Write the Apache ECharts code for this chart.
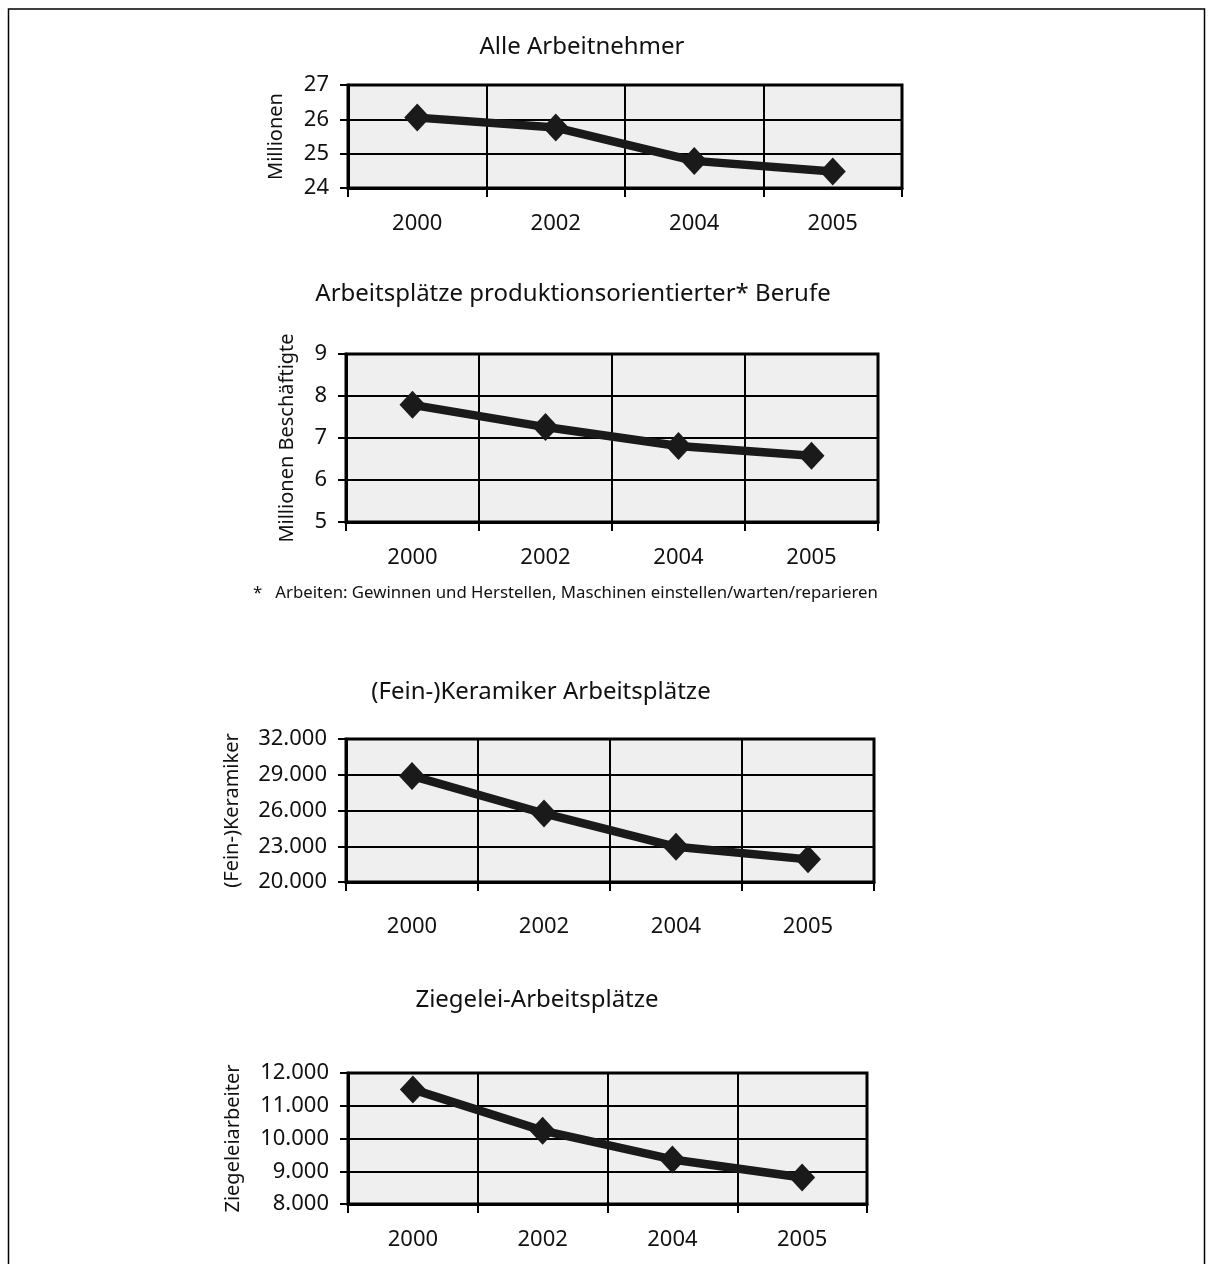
<!DOCTYPE html>
<html>
<head>
<meta charset="utf-8">
<script src="https://cdn.jsdelivr.net/npm/echarts@6/dist/echarts.min.js"></script>
<style>
html,body{margin:0;padding:0;background:#fff;}
#c{width:1214px;height:1264px;}
</style>
</head>
<body>
<div id="c"></div>
<script>
// ---- data ----
const years = ['2000', '2002', '2004', '2005'];
const arbeitnehmer = [26.05, 25.76, 24.79, 24.48];      // Millionen
const produktion = [7.79, 7.26, 6.81, 6.58];            // Millionen Beschäftigte
const keramiker = [28900, 25750, 22950, 21900];         // (Fein-)Keramiker
const ziegelei = [11500, 10240, 9360, 8810];            // Ziegeleiarbeiter

const chartTitles = [
  'Alle Arbeitnehmer',
  'Arbeitsplätze produktionsorientierter* Berufe',
  '(Fein-)Keramiker Arbeitsplätze',
  'Ziegelei-Arbeitsplätze'
];
const yNames = ['Millionen', 'Millionen Beschäftigte', '(Fein-)Keramiker', 'Ziegeleiarbeiter'];
const yMin = [24, 5, 20000, 8000];
const yMax = [27, 9, 32000, 12000];
const yStep = [1, 1, 3000, 1000];
const footnote = '*   Arbeiten: Gewinnen und Herstellen, Maschinen einstellen/warten/reparieren';
const seriesData = [arbeitnehmer, produktion, keramiker, ziegelei];

// ---- layout ----
const FONT = 'Noto Sans';
const TXT = '#111';
const grids = [
  {left: 348, top: 85, width: 554, height: 103},
  {left: 346, top: 354, width: 532, height: 168},
  {left: 346, top: 739, width: 528, height: 143},
  {left: 348, top: 1073, width: 519, height: 131}
];
const titlePos = [[582, 47], [573, 294], [541, 692], [537, 1000]];
const nameGaps = [62, 49, 104, 105];
const xLabelMargins = [25, 25, 34, 25];

function fmtThousands(v) {
  const s = String(Math.round(v));
  return s.replace(/\B(?=(\d{3})+(?!\d))/g, '.');
}

const option = {
  animation: false,
  backgroundColor: '#fff',
  textStyle: {fontFamily: FONT},
  grid: grids.map(g => Object.assign({
    show: true,
    backgroundColor: '#efefef',
    borderColor: '#000',
    borderWidth: 3,
    containLabel: false,
    outerBoundsMode: 'none'
  }, g)),
  xAxis: grids.map((g, i) => ({
    type: 'category',
    gridIndex: i,
    data: years,
    boundaryGap: true,
    axisLine: {lineStyle: {color: '#000', width: 3}},
    axisTick: {show: true, interval: 0, length: 9, alignWithLabel: false, lineStyle: {color: '#000', width: 2}},
    splitLine: {show: true, interval: 0, lineStyle: {color: '#000', width: 2}},
    axisLabel: {color: TXT, fontSize: 22, fontFamily: FONT, margin: xLabelMargins[i], interval: 0}
  })),
  yAxis: grids.map((g, i) => ({
    type: 'value',
    gridIndex: i,
    min: yMin[i],
    max: yMax[i],
    interval: yStep[i],
    name: yNames[i],
    nameLocation: 'middle',
    nameRotate: 90,
    nameGap: nameGaps[i],
    nameTextStyle: {color: TXT, fontSize: 20, fontFamily: FONT},
    axisLine: {show: true, lineStyle: {color: '#000', width: 3}},
    axisTick: {show: true, length: 8, lineStyle: {color: '#000', width: 2}},
    splitLine: {show: true, lineStyle: {color: '#000', width: 2}},
    axisLabel: {
      color: TXT, fontSize: 22, fontFamily: FONT, margin: 19,
      formatter: v => (yStep[i] >= 1000 ? fmtThousands(v) : String(v))
    }
  })),
  series: seriesData.map((d, i) => ({
    type: 'line',
    xAxisIndex: i,
    yAxisIndex: i,
    data: d,
    symbol: 'diamond',
    symbolSize: [26, 28],
    showAllSymbol: true,
    lineStyle: {color: '#1a1a1a', width: 8.5},
    itemStyle: {color: '#1a1a1a'},
    z: 5
  })),
  graphic: [
    {
      type: 'rect', silent: true, z: 100,
      shape: {x: 8.5, y: 9, width: 1196, height: 1300},
      style: {fill: 'none', stroke: '#000', lineWidth: 1.5}
    }
  ].concat(chartTitles.map((t, i) => ({
    type: 'text', silent: true,
    x: titlePos[i][0], y: titlePos[i][1],
    style: {text: t, fill: TXT, font: '24px "' + FONT + '"', textAlign: 'center', textVerticalAlign: 'middle'}
  }))).concat([{
    type: 'text', silent: true,
    x: 253, y: 593,
    style: {text: footnote, fill: TXT, font: '16.8px "' + FONT + '"', textAlign: 'left', textVerticalAlign: 'middle'}
  }])
};

const chart = echarts.init(document.getElementById('c'), null, {renderer: 'canvas'});
chart.setOption(option);
</script>
</body>
</html>
